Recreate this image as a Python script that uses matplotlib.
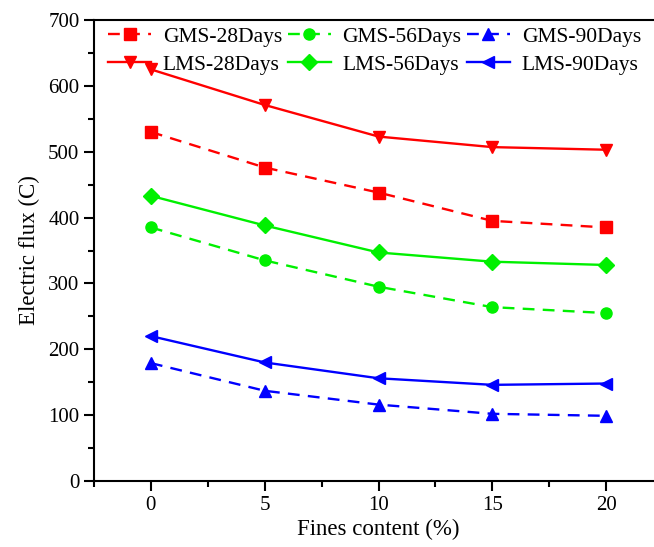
import matplotlib.pyplot as plt

plt.rcParams['font.family'] = ['Liberation Serif', 'DejaVu Serif']

fines = [0, 5, 10, 15, 20]
gms_28 = [530, 476, 438, 395, 385]
gms_56 = [385, 335, 295, 264, 255]
gms_90 = [179, 137, 116, 102, 99]
lms_28 = [625, 571, 523, 507, 503]
lms_56 = [433, 388, 347, 333, 328]
lms_90 = [220, 180, 156, 146, 148]

fig = plt.figure(figsize=(6.54, 5.47), dpi=100)
ax = fig.add_axes([94 / 654, 66 / 547, (663 - 94) / 654, 461 / 547])

dash = (5, 3.5)
lw = 1.7
ms = 8
h1, = ax.plot(fines, gms_28, color='#ff0000', ls='--', dashes=dash, lw=lw, marker='s', ms=ms, label='GMS-28Days')
h2, = ax.plot(fines, gms_56, color='#00f000', ls='--', dashes=dash, lw=lw, marker='o', ms=ms, label='GMS-56Days')
h3, = ax.plot(fines, gms_90, color='#0000ff', ls='--', dashes=dash, lw=lw, marker='^', ms=ms, label='GMS-90Days')
h4, = ax.plot(fines, lms_28, color='#ff0000', ls='-', lw=lw, marker='v', ms=ms, label='LMS-28Days')
h5, = ax.plot(fines, lms_56, color='#00f000', ls='-', lw=lw, marker='D', ms=ms, label='LMS-56Days')
h6, = ax.plot(fines, lms_90, color='#0000ff', ls='-', lw=lw, marker='<', ms=ms, label='LMS-90Days')

ax.set_xlim(-2.5, 22.5)
ax.set_ylim(0, 700)
ax.set_xticks(fines)
ax.set_xticks([-2.5, 2.5, 7.5, 12.5, 17.5, 22.5], minor=True)
ax.set_yticks(range(0, 701, 100))
ax.set_yticks(range(50, 700, 100), minor=True)
ax.tick_params(which='major', direction='out', length=7, width=1.5, labelsize=15)
ax.tick_params(which='minor', direction='out', length=4, width=1.5)
for s in ax.spines.values():
    s.set_linewidth(1.5)

ax.set_xlabel('Fines content (%)', fontsize=16.5, labelpad=3)
ax.set_ylabel('Electric flux (C)', fontsize=16.5, labelpad=6)

ax.legend(handles=[h1, h4, h2, h5, h3, h6], ncol=3, frameon=False, fontsize=15.5,
          loc='upper left', bbox_to_anchor=(0.0095, 1.004), handlelength=2.0,
          handletextpad=0.55, columnspacing=0.25, labelspacing=0.36, borderaxespad=0)

fig.savefig('out.png', dpi=100)
